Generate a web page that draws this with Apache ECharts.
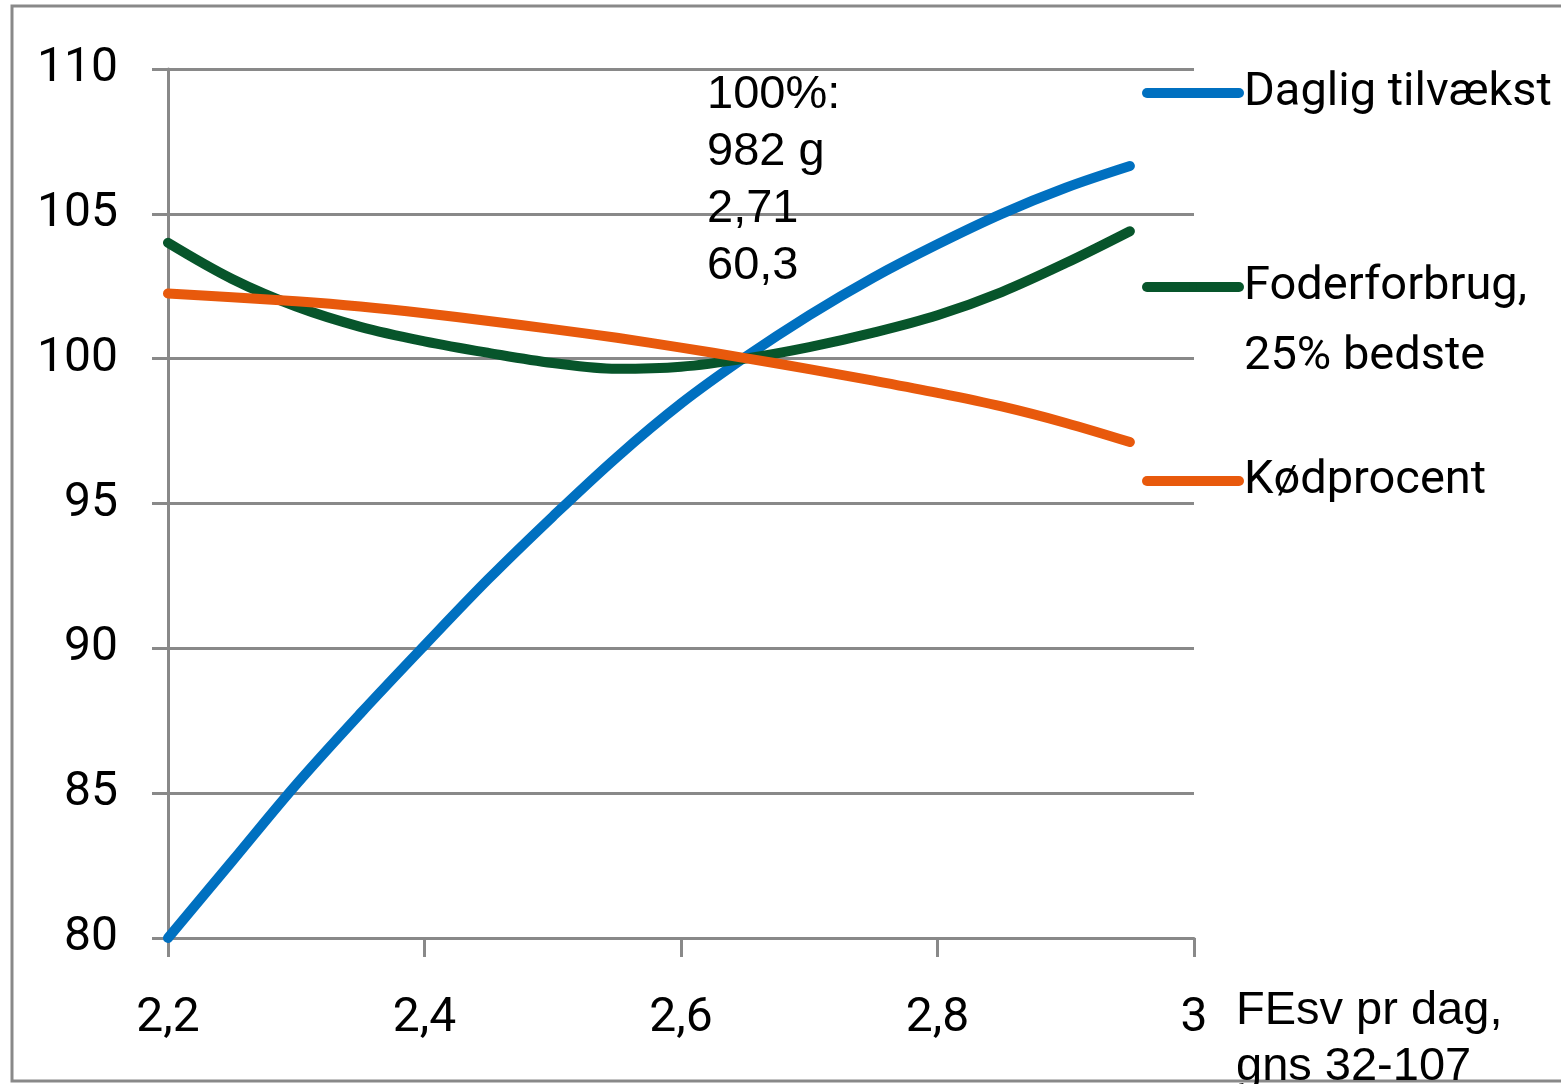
<!DOCTYPE html>
<html>
<head>
<meta charset="utf-8">
<script src="https://cdn.jsdelivr.net/npm/echarts@6/dist/echarts.min.js"></script>
<style>
  html, body { margin: 0; padding: 0; background: #fff; }
  #chart { width: 1561px; height: 1084px; }
</style>
</head>
<body>
<div id="chart"></div>
<script>
// Feed level (FEsv per day) and index values (100 = reference pig)
const feedLevels = [2.20, 2.25, 2.30, 2.35, 2.40, 2.45, 2.50, 2.55, 2.60, 2.65, 2.70, 2.75, 2.80, 2.85, 2.90, 2.95];
const dailyGain = [80.0, 82.65, 85.3, 87.75, 90.1, 92.4, 94.55, 96.6, 98.45, 100.05, 101.5, 102.8, 103.95, 105.0, 105.9, 106.65];
const feedConversion = [104.0, 102.75, 101.8, 101.1, 100.6, 100.2, 99.85, 99.65, 99.72, 100.0, 100.4, 100.9, 101.5, 102.3, 103.3, 104.4];
const leanMeatPct = [102.25, 102.12, 101.98, 101.8, 101.57, 101.3, 101.02, 100.72, 100.38, 100.02, 99.64, 99.24, 98.82, 98.35, 97.78, 97.12];

const seriesNames = ['Daglig tilvækst', 'Foderforbrug,\n25% bedste', 'Kødprocent'];
const seriesColors = ['#0070c0', '#07552b', '#e8590c'];
const referenceNote = '100%:\n982 g\n2,71\n60,3';
const xAxisTitle = 'FEsv pr dag,\ngns 32-107';

const LABEL_FONT = "Roboto, 'Liberation Sans', sans-serif";
const ARIAL = "'Liberation Sans', Arial, sans-serif";
const GRID_GREY = '#898989';

const pairs = vals => feedLevels.map((x, i) => [x, vals[i]]);

const chart = echarts.init(document.getElementById('chart'), null, { renderer: 'canvas' });

chart.setOption({
  backgroundColor: '#fff',
  animation: false,
  grid: { left: 168, right: 367, top: 69, bottom: 146, containLabel: false },
  xAxis: {
    type: 'value', min: 2.2, max: 3, interval: 0.2,
    axisLine: { show: true, lineStyle: { color: GRID_GREY, width: 3 } },
    axisTick: { show: true, length: 19, lineStyle: { color: GRID_GREY, width: 3 } },
    splitLine: { show: false },
    axisLabel: {
      margin: 57, fontFamily: LABEL_FONT, fontSize: 48, color: '#000',
      formatter: v => String(v).replace('.', ',')
    }
  },
  yAxis: {
    type: 'value', min: 80, max: 110, interval: 5,
    axisLine: { show: true, lineStyle: { color: GRID_GREY, width: 3 } },
    axisTick: { show: true, length: 16, lineStyle: { color: GRID_GREY, width: 3 } },
    splitLine: { show: true, lineStyle: { color: GRID_GREY, width: 3 } },
    axisLabel: { margin: 50, fontFamily: LABEL_FONT, fontSize: 48, color: '#000' }
  },
  legend: {
    orient: 'vertical', left: 1142, top: 58, padding: 0, itemGap: 54,
    itemWidth: 92, itemHeight: 10,
    textStyle: { fontFamily: LABEL_FONT, fontSize: 47, color: '#000', lineHeight: 70 },
    lineStyle: { width: 10, cap: 'round' },
    // the two-line entry gets a blank line on top so its icon sits beside the first line
    formatter: name => (name.indexOf('\n') >= 0 ? ' \n' + name : name),
    data: seriesNames
  },
  series: [dailyGain, feedConversion, leanMeatPct].map((vals, i) => ({
    type: 'line',
    name: seriesNames[i],
    data: pairs(vals),
    smooth: 0.35,
    symbol: 'none',
    color: seriesColors[i],
    lineStyle: { width: 10, color: seriesColors[i], cap: 'round' },
    z: 3 + i
  })),
  graphic: [
    {
      type: 'rect', silent: true, z: 0,
      shape: { x: 12, y: 6, width: 1570, height: 1075 },
      style: { fill: 'none', stroke: GRID_GREY, lineWidth: 3 }
    },
    {
      type: 'text', left: 707, top: 67, z: 10,
      style: { text: referenceNote, font: '47px ' + ARIAL, lineHeight: 57, fill: '#000' }
    },
    {
      type: 'text', left: 1236, top: 983, z: 10,
      style: { text: xAxisTitle, font: '47px ' + ARIAL, lineHeight: 56, fill: '#000' }
    }
  ]
});
</script>
</body>
</html>
